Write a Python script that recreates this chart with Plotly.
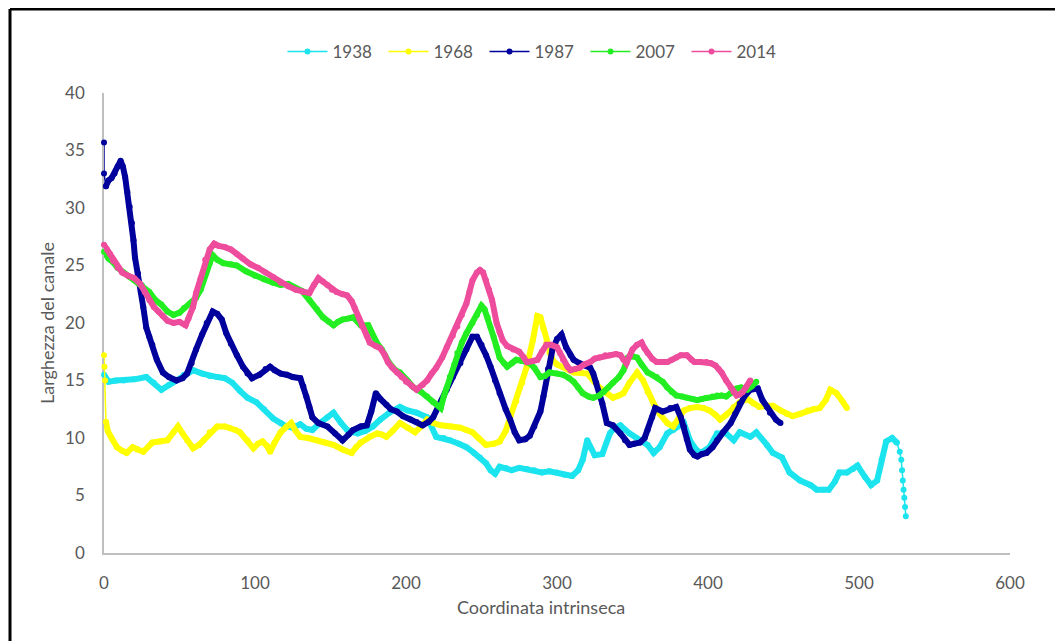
import plotly.graph_objects as go

# ---------------- data (x = coordinata intrinseca, y = larghezza del canale) ----------------
YEARS = ["1938", "1968", "1987", "2007", "2014"]

S1938 = [(0,15.5),(3,14.9),(8,15.0),(13,15.0),(20,15.1),(28,15.3),(33,14.8),(38,14.2),(43,14.6),(48,15.0),
         (53,15.5),(59,15.9),(65,15.6),(70,15.4),(75,15.3),(80,15.2),(85,14.8),(90,14.1),(95,13.5),(101,13.1),
         (106,12.5),(112,11.7),(117,11.3),(121,11.0),(125,10.9),(130,11.2),(134,10.8),(138,10.7),(143,11.3),(148,11.8),
         (152,12.2),(157,11.3),(161,10.7),(165,10.5),(168,10.4),(173,10.6),(178,11.0),(183,11.6),(189,12.2),(196,12.7),
         (201,12.4),(207,12.2),(214,11.8),(220,10.1),(225,10.0),(229,9.8),(235,9.5),(240,9.2),(245,8.7),(249,8.3),
         (253,7.8),(256,7.2),(259,6.9),(262,7.5),(266,7.4),(270,7.2),(275,7.4),(280,7.3),(285,7.2),(290,7.0),
         (295,7.1),(300,7.0),(305,6.8),(310,6.7),(314,7.2),(317,8.1),(320,9.8),(322,9.2),(325,8.5),(330,8.6),
         (335,10.4),(338,10.9),(342,11.1),(348,10.4),(355,9.8),(360,9.4),(364,8.7),(368,9.2),(373,10.4),(377,10.7),
         (384,11.3),(388,9.8),(392,9.0),(395,8.7),(401,9.2),(406,10.4),(412,10.4),(417,9.8),(421,10.5),(428,10.1),
         (432,10.5),(439,9.4),(443,8.7),(449,8.3),(454,7.0),(461,6.3),(468,5.9),(472,5.5),(476,5.5),(480,5.5),
         (484,6.2),(487,7.0),(492,7.0),(496,7.3),(499,7.6),(504,6.6),(508,5.9),(512,6.3),(515,8.1),(518,9.7),
         (522,10.0),(525,9.6),(527,8.8),(528,8.1),(528.5,7.2),(529,6.3),(529.5,5.5),(530,4.8),(530.5,4.0),(531,3.2)]

S1968 = [(0,17.2),(0.3,16.2),(0.7,15.0),(1.3,11.4),(2.5,10.6),(5,10.0),(8.6,9.2),(12,8.9),(15,8.7),(19,9.2),
         (22,9.0),(26,8.8),(32,9.6),(37,9.7),(42,9.8),(46,10.5),(49,11.0),(52,10.4),(55,9.8),(59,9.1),
         (63,9.4),(66,9.8),(70,10.5),(75,11.0),(80,11.0),(83,10.9),(87,10.7),(90,10.5),(95,9.8),(99,9.1),
         (102,9.5),(105,9.7),(108,9.3),(110,8.8),(113,9.6),(117,10.5),(121,11.0),(124,11.3),(127,10.6),(130,10.1),
         (135,10.0),(141,9.8),(146,9.6),(152,9.4),(158,9.0),(164,8.7),(167,9.2),(170,9.6),(176,10.1),(181,10.4),
         (184,10.3),(187,10.1),(191,10.6),(196,11.3),(201,10.9),(206,10.5),(210,11.0),(214,11.6),(218,11.3),(223,11.1),
         (230,11.0),(236,10.9),(240,10.7),(244,10.5),(248,10.0),(253,9.4),(258,9.5),(262,9.7),(266,10.6),(269,11.8),
         (273,13.2),(277,14.8),(280,16.2),(284,18.5),(287,20.6),(289,20.5),(291,19.5),(293,18.3),(295,17.4),(297,16.8),
         (300,16.4),(304,16.2),(308,15.9),(311,15.7),(316,15.7),(320,15.6),(324,15.0),(328,14.4),(333,13.9),(337,13.5),
         (341,13.7),(344,13.9),(348,14.8),(353,15.7),(357,15.0),(360,14.0),(364,13.0),(368,12.1),(373,11.3),(377,11.0),
         (381,11.8),(384,12.4),(388,12.6),(393,12.7),(397,12.6),(401,12.4),(405,12.0),(408,11.6),(412,12.0),(417,12.7),
         (421,13.1),(426,13.4),(430,13.0),(434,12.7),(439,12.8),(443,12.8),(448,12.4),(452,12.1),(456,11.9),(461,12.1),
         (466,12.4),(470,12.5),(474,12.6),(478,13.3),(481,14.2),(485,13.9),(489,13.2),(492,12.6)]

S1987 = [(0,35.7),(0,33.0),(1.3,31.9),(3,32.4),(5,32.6),(7,33.0),(9,33.6),(11,34.1),(12.5,33.6),(14,32.7),
         (15.5,31.4),(17,30.1),(18.5,28.7),(19.5,27.2),(20.5,25.7),(22.5,24.3),(24.5,22.9),(26,21.4),(28,19.6),(30,18.8),
         (32,18.1),(35,16.8),(39,15.7),(43,15.3),(48,15.0),(52,15.2),(55,15.6),(58,16.5),(61,17.7),(65,19.0),
         (68,20.0),(72,21.0),(75,20.8),(78,20.3),(81,19.1),(84,18.2),(88,17.2),(92,16.2),(95,15.6),(98,15.2),
         (103,15.5),(107,16.0),(110,16.2),(113,15.9),(117,15.6),(121,15.5),(125,15.3),(130,15.2),(132,14.5),(134,13.6),
         (136,12.7),(138,11.8),(142,11.3),(148,11.0),(153,10.4),(158,9.8),(162,10.3),(165,10.7),(170,11.0),(174,11.1),
         (177,12.3),(180,13.9),(183,13.4),(187,12.9),(190,12.5),(194,12.3),(198,11.9),(203,11.6),(207,11.4),(211,11.1),
         (215,11.4),(218,11.8),(222,12.9),(227,14.2),(231,15.3),(236,16.5),(240,17.7),(244,18.8),(247,18.8),(250,18.1),
         (253,17.2),(256,16.2),(259,15.0),(262,13.9),(266,12.5),(269,11.6),(272,10.5),(275,9.8),(279,9.9),(282,10.2),
         (285,11.0),(289,12.3),(291,13.6),(294,16.0),(297,17.7),(300,18.6),(303,19.0),(306,17.9),(309,17.2),(311,16.8),
         (315,16.5),(319,16.3),(322,16.1),(324,15.6),(326,14.8),(328,13.8),(330,13.0),(333,11.3),(337,11.1),(342,10.4),
         (345,9.8),(348,9.4),(351,9.5),(355,9.6),(358,10.0),(360,10.7),(363,11.8),(365,12.6),(370,12.3),(375,12.6),
         (379,12.7),(382,11.8),(384,11.0),(386,9.9),(388,9.0),(391,8.5),(393,8.4),(396,8.6),(399,8.7),(403,9.2),
         (406,9.8),(410,10.5),(415,11.3),(418,12.1),(421,13.0),(424,13.6),(428,14.2),(433,14.3),(436,13.3),(439,12.7),
         (441,12.2),(445,11.6),(448,11.3)]

S2007 = [(0,26.2),(3,25.6),(6,25.3),(9,24.8),(13,24.4),(17,24.0),(21,23.7),(25,23.3),(30,22.7),(34,22.0),
         (38,21.6),(42,21.0),(46,20.7),(50,20.9),(53,21.3),(57,21.7),(61,22.2),(64,22.9),(67,24.2),(70,25.2),
         (72,25.9),(75,25.5),(79,25.2),(84,25.1),(88,25.0),(94,24.5),(100,24.1),(106,23.8),(112,23.5),(117,23.3),
         (122,23.4),(127,23.0),(131,22.8),(136,22.0),(141,21.2),(145,20.5),(149,20.1),(152,19.8),(155,20.1),(158,20.3),
         (162,20.4),(165,20.5),(168,20.1),(170,19.8),(175,19.8),(177,19.2),(181,18.2),(184,17.7),(189,16.5),(193,15.9),
         (196,15.7),(201,15.0),(205,14.4),(210,14.0),(214,13.6),(218,13.1),(223,12.6),(225,13.6),(227,14.4),(229,15.3),
         (232,16.4),(234,17.4),(237,18.3),(240,19.1),(244,20.0),(247,20.7),(250,21.5),(252,21.2),(254,20.5),(256,19.6),
         (258,18.8),(260,17.9),(262,17.0),(265,16.5),(267,16.2),(270,16.5),(273,16.8),(277,16.7),(282,16.5),(285,16.1),
         (289,15.3),(292,15.4),(295,15.7),(300,15.6),(304,15.5),(308,15.2),(311,14.9),(314,14.4),(317,13.9),(321,13.6),
         (324,13.5),(328,13.7),(331,14.0),(334,14.4),(337,14.8),(341,15.3),(344,15.9),(347,17.0),(350,17.1),(353,17.0),
         (356,16.4),(360,15.7),(363,15.5),(366,15.3),(370,14.9),(373,14.4),(376,14.0),(379,13.7),(383,13.6),(386,13.5),
         (390,13.4),(393,13.3),(396,13.4),(399,13.5),(403,13.6),(406,13.7),(409,13.7),(412,13.6),(415,13.9),(419,14.3),
         (422,14.4),(426,14.2),(429,14.5),(432,14.9)]

S2014 = [(0,26.8),(2,26.4),(4,26.0),(6,25.4),(9,24.8),(12,24.4),(16,24.1),(20,23.9),(24,23.4),(27,22.7),
         (30,22.0),(33,21.4),(36,21.0),(39,20.6),(42,20.2),(46,20.0),(50,20.1),(54,19.8),(56,20.4),(59,21.4),
         (61,22.6),(64,23.9),(67,25.5),(70,26.4),(73,26.9),(76,26.7),(80,26.6),(84,26.4),(88,26.0),(92,25.6),
         (97,25.1),(102,24.8),(107,24.4),(112,24.0),(117,23.5),(122,23.2),(127,22.9),(132,22.7),(136,22.6),(139,23.3),
         (142,23.9),(145,23.6),(148,23.3),(151,22.9),(154,22.7),(158,22.5),(161,22.4),(164,21.9),(166,21.3),(169,20.4),
         (171,19.7),(174,18.9),(176,18.3),(180,18.0),(183,17.8),(186,17.2),(188,16.6),(191,16.1),(194,15.7),(197,15.3),
         (200,14.9),(204,14.5),(207,14.2),(211,14.6),(214,15.0),(217,15.6),(220,16.1),(224,17.0),(227,17.9),(231,18.9),
         (234,19.7),(237,20.7),(240,21.7),(242,22.7),(244,23.7),(247,24.4),(249,24.6),(251,24.4),(253,23.7),(255,22.9),
         (257,22.0),(260,20.0),(262,19.2),(264,18.5),(267,18.0),(271,17.7),(275,17.5),(278,17.0),(280,16.6),(284,16.7),
         (287,16.8),(290,17.5),(293,18.1),(296,18.1),(300,17.9),(302,17.4),(304,16.8),(307,16.2),(309,15.9),(312,16.0),
         (315,16.1),(318,16.4),(322,16.6),(325,16.9),(328,17.0),(332,17.2),(335,17.2),(339,17.3),(342,17.2),(344,16.8),
         (346,16.5),(348,17.1),(350,17.7),(353,18.1),(356,18.3),(358,17.8),(360,17.4),(363,16.9),(366,16.6),(370,16.6),
         (373,16.6),(376,16.8),(379,17.0),(382,17.2),(386,17.2),(389,16.8),(391,16.6),(395,16.6),(399,16.6),(402,16.5),
         (405,16.3),(407,16.0),(409,15.7),(412,15.0),(415,14.4),(417,14.0),(419,13.7),(421,13.8),(423,14.0),(425,14.4),
         (428,15.0)]

SERIES = [S1938, S1968, S1987, S2007, S2014]
X_TICKS = [0, 100, 200, 300, 400, 500, 600]
Y_TICKS = [0, 5, 10, 15, 20, 25, 30, 35, 40]
X_TITLE = "Coordinata intrinseca"
Y_TITLE = "Larghezza del canale"

# ---------------- styling ----------------
COLORS = ["#1BE4EE", "#FFFF00", "#00009C", "#22EE22", "#EE4C9C"]
# portions of a series drawn as sparse dots on a thin line (head count, tail count)
SPARSE = {"1938": (0, 9), "1968": (4, 0), "1987": (3, 0), "2007": (0, 0), "2014": (0, 0)}
FONT = "Lato, 'Open Sans', sans-serif"
GREY = "#595959"

fig = go.Figure()

for name, pts, col in zip(YEARS, SERIES, COLORS):
    xs = [p[0] for p in pts]
    ys = [p[1] for p in pts]
    h, t = SPARSE[name]
    n = len(xs)
    main_lo = max(h - 1, 0)
    main_hi = n - (t - 1) if t else n
    fig.add_trace(go.Scatter(x=xs[main_lo:main_hi], y=ys[main_lo:main_hi], mode="lines+markers",
                             line=dict(color=col, width=6), marker=dict(color=col, size=6),
                             showlegend=False, cliponaxis=False, hoverinfo="skip"))
    if h:
        fig.add_trace(go.Scatter(x=xs[:h], y=ys[:h], mode="lines+markers",
                                 line=dict(color=col, width=1.5), marker=dict(color=col, size=6),
                                 showlegend=False, cliponaxis=False, hoverinfo="skip"))
    if t:
        fig.add_trace(go.Scatter(x=xs[n - t:], y=ys[n - t:], mode="lines+markers",
                                 line=dict(color=col, width=1.5), marker=dict(color=col, size=6),
                                 showlegend=False, cliponaxis=False, hoverinfo="skip"))
    # legend entry
    fig.add_trace(go.Scatter(x=[None], y=[None], mode="lines+markers", name=name,
                             line=dict(color=col, width=1.5), marker=dict(color=col, size=6)))

# The html page body has an 8px margin: the figure is sized/positioned to compensate.
OFF = 8
W, H = 1063 - OFF, 641 - OFF
# plot-area edges in page pixels
PL, PR, PT, PB = 104, 1010, 93, 553
L, R, T, B = PL - OFF, W - (PR - OFF), PT - OFF, H - (PB - OFF)
pw, ph = W - L - R, H - T - B

def px_x(p):  # page px -> paper x
    return (p - OFF - L) / pw

def px_y(p):  # page px -> paper y
    return (H - B - (p - OFF)) / ph

fig.update_layout(
    width=W, height=H,
    margin=dict(l=L, r=R, t=T, b=B),
    paper_bgcolor="white", plot_bgcolor="white",
    font=dict(family=FONT, size=17, color=GREY),
    legend=dict(orientation="h", x=px_x(535), xanchor="center", y=px_y(52), yanchor="middle",
                font=dict(size=17, color=GREY), bgcolor="rgba(0,0,0,0)", itemclick=False,
                itemwidth=40, entrywidth=46, entrywidthmode="pixels"),
    xaxis=dict(range=[0, 600], tickvals=X_TICKS, showgrid=False, zeroline=False,
               showline=True, linecolor="#BFBFBF", linewidth=1.5, ticks="", layer="below traces",
               ticklabelstandoff=14, tickfont=dict(size=17, color=GREY)),
    yaxis=dict(range=[0, 40], tickvals=Y_TICKS, showgrid=False, zeroline=False,
               showline=True, linecolor="#BFBFBF", linewidth=1.5, ticks="", layer="below traces",
               ticklabelstandoff=14, tickfont=dict(size=17, color=GREY),
               title=dict(text=Y_TITLE, standoff=6, font=dict(size=18, color=GREY))),
    annotations=[
        dict(text=X_TITLE, xref="paper", yref="paper", x=px_x(541), y=px_y(607),
             xanchor="center", yanchor="middle", showarrow=False, font=dict(size=18, color=GREY)),
    ],
    shapes=[
        dict(type="line", xref="paper", yref="paper", x0=px_x(10), x1=px_x(1080), y0=px_y(9), y1=px_y(9),
             line=dict(color="black", width=3)),
        dict(type="line", xref="paper", yref="paper", x0=px_x(10), x1=px_x(10), y0=px_y(9), y1=px_y(660),
             line=dict(color="black", width=3)),
    ],
)

fig.write_html("out.html")
